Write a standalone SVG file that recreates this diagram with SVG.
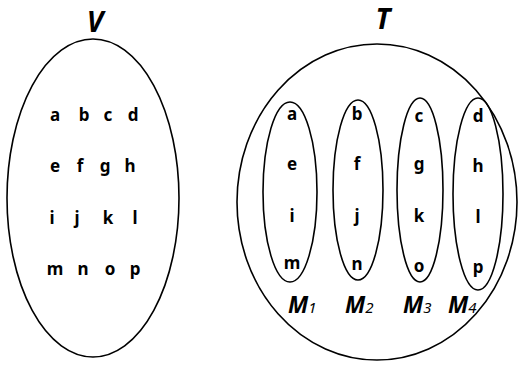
<svg xmlns="http://www.w3.org/2000/svg" width="518" height="365" viewBox="0 0 518 365">
<style>
.s{fill:none;stroke:#000;stroke-width:1.6}
.l{font-family:"Noto Sans","Open Sans",sans-serif;font-weight:bold;font-size:17px;text-anchor:middle;fill:#000}
.t{font-family:"Noto Sans","Open Sans",sans-serif;font-weight:bold;font-style:italic;font-size:28px;text-anchor:middle;fill:#000}
.m{font-family:"Noto Sans","Open Sans",sans-serif;font-weight:bold;font-style:italic;font-size:23px;fill:#000}
.m tspan{font-size:15px;font-weight:normal}
</style>
<rect width="518" height="365" fill="#fff"/>
<g id="V">
<ellipse class="s" cx="93" cy="198" rx="86" ry="159"/>
<text class="t" x="95" y="32">V</text>
<text class="l" x="55" y="121">a</text><text class="l" x="84" y="121">b</text><text class="l" x="108" y="121">c</text><text class="l" x="133" y="121">d</text>
<text class="l" x="55" y="172">e</text><text class="l" x="80" y="172">f</text><text class="l" x="105" y="172">g</text><text class="l" x="130" y="172">h</text>
<text class="l" x="52" y="224">i</text><text class="l" x="77" y="224">j</text><text class="l" x="108" y="224">k</text><text class="l" x="135" y="224">l</text>
<text class="l" x="55" y="275">m</text><text class="l" x="83" y="275">n</text><text class="l" x="110" y="275">o</text><text class="l" x="135" y="275">p</text>
</g>
<g id="T">
<ellipse class="s" cx="377" cy="202" rx="140" ry="158"/>
<text class="t" x="383" y="29">T</text>
</g>
<g id="M1">
<ellipse class="s" cx="290" cy="192" rx="27" ry="90"/>
<text class="l" x="292" y="120">a</text><text class="l" x="292" y="170">e</text><text class="l" x="292" y="222">i</text><text class="l" x="292" y="269">m</text>
<text class="m" x="288" y="313">M<tspan>1</tspan></text>
</g>
<g id="M2">
<ellipse class="s" cx="358" cy="190" rx="25" ry="90"/>
<text class="l" x="357" y="120">b</text><text class="l" x="357" y="170">f</text><text class="l" x="357" y="222">j</text><text class="l" x="357" y="270">n</text>
<text class="m" x="345" y="313">M<tspan>2</tspan></text>
</g>
<g id="M3">
<ellipse class="s" cx="420" cy="190" rx="23" ry="92"/>
<text class="l" x="419" y="122">c</text><text class="l" x="419" y="170">g</text><text class="l" x="419" y="222">k</text><text class="l" x="419" y="272">o</text>
<text class="m" x="403" y="313">M<tspan>3</tspan></text>
</g>
<g id="M4">
<ellipse class="s" cx="478" cy="194" rx="25" ry="96"/>
<text class="l" x="478" y="122">d</text><text class="l" x="478" y="172">h</text><text class="l" x="478" y="223">l</text><text class="l" x="478" y="273">p</text>
<text class="m" x="448" y="313">M<tspan>4</tspan></text>
</g>
</svg>
